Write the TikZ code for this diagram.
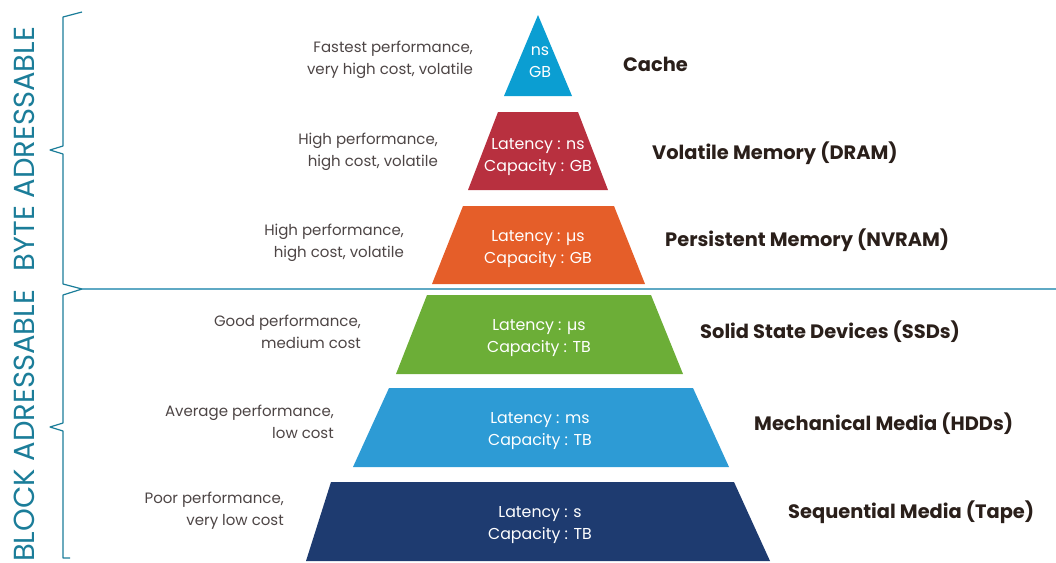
\documentclass[tikz,border=0pt]{standalone}
\usepackage{fontspec}
\setmainfont{Poppins}
\definecolor{cachecol}{HTML}{0B9ED2}
\definecolor{dramcol}{HTML}{B8303F}
\definecolor{nvramcol}{HTML}{E55E29}
\definecolor{ssdcol}{HTML}{6CAE37}
\definecolor{hddcol}{HTML}{2D9BD5}
\definecolor{tapecol}{HTML}{1E3B70}
\definecolor{desccol}{HTML}{4D4545}
\definecolor{titlecol}{HTML}{2A1F1A}
\definecolor{bracecol}{HTML}{1B7D99}
\definecolor{splitcol}{HTML}{5FA9C4}
\begin{document}
\begin{tikzpicture}[x=1pt, y=-1pt,
    inval/.style={text=white, inner sep=0pt, align=center, font=\fontsize{15.8}{22}\selectfont},
    desc/.style={text=desccol, inner sep=0pt, align=right, anchor=east, font=\fontsize{15}{22}\selectfont},
    tier/.style={text=titlecol, inner sep=0pt, anchor=west, font=\bfseries\fontsize{19.4}{22}\selectfont},
    side/.style={text=bracecol, inner sep=0pt, rotate=90, font=\fontsize{29}{29}\selectfont},
    brace/.style={draw=bracecol, line width=1.2pt, line join=round}]
\useasboundingbox (0,0) rectangle (1056,562);

% Cache
\fill[cachecol] (538,15) -- (572,96) -- (504,96) -- cycle;
\node[inval] (cacheval) at (540,62) {ns\\GB};
\node[desc] (cachedesc) at (473,60) {Fastest performance,\\very high cost, volatile};
\node[tier] (cachename) at (623,64) {Cache};

% Volatile memory
\fill[dramcol] (498,112) -- (578,112) -- (608,190) -- (468,190) -- cycle;
\node[inval] (dramval) at (538,157) {Latency : ns\\Capacity : GB};
\node[desc] (dramdesc) at (438,152) {High performance,\\high cost, volatile};
\node[tier] (dramname) at (652,153) {Volatile Memory (DRAM)};

% Persistent memory
\fill[nvramcol] (463,206) -- (614,206) -- (645,284) -- (432,284) -- cycle;
\node[inval] (nvramval) at (538,249) {Latency : µs\\Capacity : GB};
\node[desc] (nvramdesc) at (404,243) {High performance,\\high cost, volatile};
\node[tier] (nvramname) at (665,240) {Persistent Memory (NVRAM)};

% Split between byte and block
\coordinate (splitL) at (82,289);
\coordinate (splitR) at (1056,289);
\draw[splitcol, line width=1.2pt] (splitL) -- (splitR);

% Solid state
\fill[ssdcol] (427,295) -- (651,295) -- (683,374) -- (396,374) -- cycle;
\node[inval] (ssdval) at (539,338) {Latency : µs\\Capacity : TB};
\node[desc] (ssddesc) at (361,332) {Good performance,\\medium cost};
\node[tier] (ssdname) at (700,332) {Solid State Devices (SSDs)};

% Mechanical
\fill[hddcol] (389,388) -- (693,388) -- (729,467) -- (353,467) -- cycle;
\node[inval] (hddval) at (540,431) {Latency : ms\\Capacity : TB};
\node[desc] (hdddesc) at (334,422) {Average performance,\\low cost};
\node[tier] (hddname) at (754,424) {Mechanical Media (HDDs)};

% Sequential
\fill[tapecol] (331,482) -- (734,482) -- (770,561) -- (306,561) -- cycle;
\node[inval] (tapeval) at (540,525) {Latency : s\\Capacity : TB};
\node[desc] (tapedesc) at (284,511) {Poor performance,\\very low cost};
\node[tier] (tapename) at (788,512) {Sequential Media (Tape)};

% Braces
\draw[brace] (82,12) -- (63,17) -- (63,146) -- (50,150) -- (63,154) -- (63,284) -- (splitL);
\draw[brace] (splitL) -- (63,295) -- (63,423) -- (50,427) -- (63,431) -- (63,558) -- (70,558);
\node[side] (bytelabel) at (24,149) {BYTE ADRESSABLE};
\node[side] (blocklabel) at (24,426) {BLOCK ADRESSABLE};
\end{tikzpicture}
\end{document}
